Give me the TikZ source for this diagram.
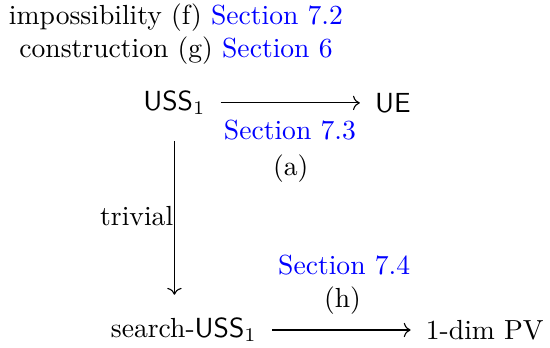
\documentclass[tikz,border=0pt]{standalone}
\usepackage{amsmath,amssymb}
\usepackage{xcolor}
\usepackage{tikz}
\usetikzlibrary{arrows.meta,positioning,calc}

\tikzset{
    secref/.style={text=blue},
    maparrow/.style={->,shorten <=2pt,shorten >=2pt}
}

\begin{document}
\begin{tikzpicture}
    \useasboundingbox (0,0) rectangle (7.0,4.42);
    \node (impos) at (2.24,4.20) {impossibility (f) \textcolor{blue}{Section 7.2}};
    \node (constr) at (2.24,3.78) {construction (g) \textcolor{blue}{Section 6}};

    \node (uss) at (2.22,3.11) {$\mathsf{USS}_1$};
    \node (ue) at (5.00,3.11) {$\mathsf{UE}$};
    \node[secref] (sec73) at (3.69,2.76) {Section 7.3};
    \node (lbla) at (3.70,2.28) {(a)};

    \node (search) at (2.34,0.22) {search-$\mathsf{USS}_1$};
    \node (pv) at (6.17,0.22) {1-dim PV};
    \node[secref] (sec74) at (4.38,1.04) {Section 7.4};
    \node (lblh) at (4.36,0.60) {(h)};
    \node (triv) at (1.74,1.67) {trivial};

    \draw[maparrow] (uss.east) -- (uss.east -| ue.west);
    \draw[maparrow] (search.east) -- (search.east -| pv.west);
    \draw[maparrow,shorten <=6pt,shorten >=5pt] (uss.south) -- (uss.south |- search.north);
\end{tikzpicture}
\end{document}
